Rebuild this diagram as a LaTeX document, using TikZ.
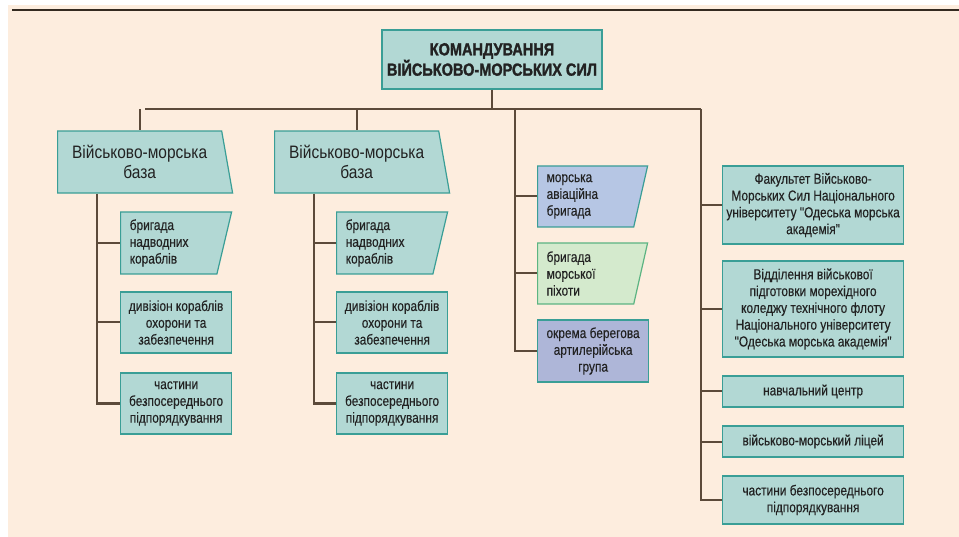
\documentclass[tikz,border=0pt]{standalone}
\usepackage{fontspec}
\usepackage{tikz}
\usetikzlibrary{shapes.geometric}
\newfontfamily\titlefont[FakeStretch=0.83,FakeBold=1.5]{Liberation Sans}
\newfontfamily\basefont[FakeStretch=0.86]{Liberation Sans}
\newfontfamily\boxfont[FakeStretch=0.82,FakeBold=0.3]{Liberation Sans}
\definecolor{bgcol}{RGB}{253,237,222}
\definecolor{linecol}{RGB}{92,74,58}
\definecolor{topline}{RGB}{52,42,32}
\definecolor{boxfill}{RGB}{178,216,212}
\definecolor{boxline}{RGB}{58,158,150}
\definecolor{bluefill}{RGB}{182,198,228}
\definecolor{greenfill}{RGB}{212,234,205}
\definecolor{greenline}{RGB}{92,180,130}
\definecolor{violetfill}{RGB}{174,182,216}
\definecolor{textcol}{RGB}{34,34,34}

\begin{document}
\begin{tikzpicture}[x=1pt,y=-1pt,
  link/.style={line width=2pt,draw=linecol},
  box/.style={draw=boxline,line width=1.2pt,fill=boxfill,anchor=west,inner sep=2pt,
    text=textcol,align=center,font=\boxfont\fontsize{14.5}{16.8}\selectfont},
  basebox/.style={box,shape=trapezium,trapezium left angle=90,trapezium right angle=74,
    trapezium stretches body,minimum width=175pt,minimum height=62pt,
    font=\basefont\fontsize{18}{20.5}\selectfont},
  slantbox/.style={box,shape=trapezium,trapezium left angle=90,trapezium right angle=106,
    trapezium stretches body,minimum width=111pt,minimum height=62pt,
    align=left,text width=78pt},
  subbox/.style={box,minimum width=111pt,minimum height=61pt},
  widebox/.style={box,minimum width=181pt}]

\useasboundingbox (0,0) rectangle (959,537);
\fill[white] (0,0) rectangle (959,537);
\fill[bgcol] (8,5) rectangle (959,537);
\draw[topline,line width=2.5pt] (12,10) -- (959,10);

\node[box,anchor=center,minimum width=220pt,minimum height=59pt,
  font=\titlefont\bfseries\fontsize{17.5}{19}\selectfont] (top) at (492,59.5)
  {КОМАНДУВАННЯ\\ВІЙСЬКОВО-МОРСЬКИХ СИЛ};

\node[basebox] (b1) at (57,162) {Військово-морська\\база};
\node[basebox] (b2) at (274,162) {Військово-морська\\база};

\node[slantbox] (s11) at (120,243) {бригада\\надводних\\кораблів};
\node[subbox] (s12) at (120,322.5) {дивізіон кораблів\\охорони та\\забезпечення};
\node[subbox] (s13) at (120,403.5) {частини\\безпосереднього\\підпорядкування};

\node[slantbox] (s21) at (336,243) {бригада\\надводних\\кораблів};
\node[subbox] (s22) at (336,322.5) {дивізіон кораблів\\охорони та\\забезпечення};
\node[subbox] (s23) at (336,403.5) {частини\\безпосереднього\\підпорядкування};

\node[slantbox,fill=bluefill,minimum width=110pt,minimum height=61pt] (c31) at (537,196.5) {морська\\авіаційна\\бригада};
\node[slantbox,fill=greenfill,draw=greenline,minimum width=110pt,minimum height=61pt] (c32) at (537,273.5) {бригада\\морської\\піхоти};
\node[subbox,fill=violetfill,minimum height=62pt] (c33) at (537,351) {окрема берегова\\артилерійська\\група};

\node[widebox,minimum height=78pt] (c41) at (722,205) {Факультет Військово-\\Морських Сил Національного\\університету "Одеська морська\\академія"};
\node[widebox,minimum height=96pt] (c42) at (722,309) {Відділення військової\\підготовки морехідного\\коледжу технічного флоту\\Національного університету\\"Одеська морська академія"};
\node[widebox,minimum height=31pt] (c43) at (722,391.5) {навчальний центр};
\node[widebox,minimum height=31pt] (c44) at (722,441.5) {військово-морський ліцей};
\node[widebox,minimum height=48pt] (c45) at (722,500) {частини безпосереднього\\підпорядкування};

\coordinate (busL) at (145,109);
\coordinate (busR) at (701,109);
\coordinate (v3) at (515,109);
\coordinate (v1) at (b1.south -| 97,0);
\coordinate (v2) at (b2.south -| 314,0);

\draw[link] (top.south) -- (top.south |- busL);
\draw[link] (busL) -- (busR);
\draw[link] (b1.north |- busL) -- (b1.north);
\draw[link] (b2.north |- busL) -- (b2.north);

\draw[link] (v1) |- (s13.west);
\draw[link] (v1 |- s11.west) -- (s11.west);
\draw[link] (v1 |- s12.west) -- (s12.west);
\draw[link] (v2) |- (s23.west);
\draw[link] (v2 |- s21.west) -- (s21.west);
\draw[link] (v2 |- s22.west) -- (s22.west);

\draw[link] (v3) |- (c33.west);
\draw[link] (v3 |- c31.west) -- (c31.west);
\draw[link] (v3 |- c32.west) -- (c32.west);

\draw[link] (busR) |- (c45.west);
\foreach \n in {c41,c42,c43,c44}
  \draw[link] (busR |- \n.west) -- (\n.west);
\end{tikzpicture}
\end{document}
